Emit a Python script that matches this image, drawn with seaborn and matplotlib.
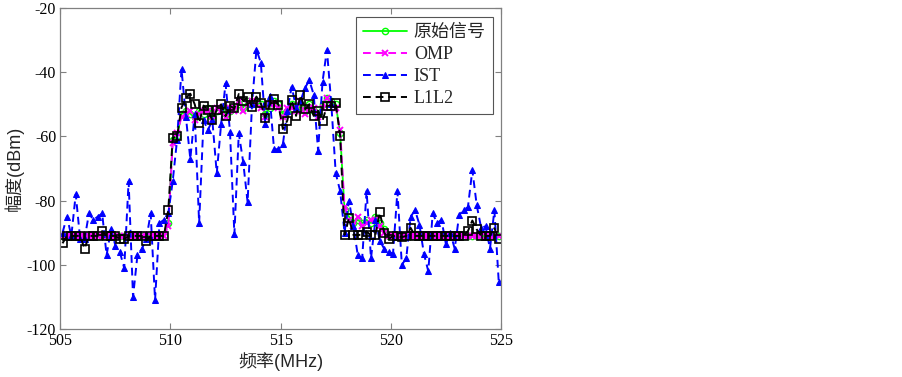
import numpy as np
import matplotlib
matplotlib.use("Agg")
import matplotlib.pyplot as plt
import seaborn as sns

# frequency grid (MHz), 0.2 MHz bins
freq = np.linspace(505.1, 524.9, 100)

# original signal
orig = [-91] * 24 + [
    -87, -61, -60, -53, -52, -53, -54, -52, -53, -51,
    -54, -52, -51, -53, -52, -51, -50, -51, -49, -50,
    -49, -50, -53, -51, -49, -50, -53, -52, -50, -51,
    -50, -52, -50, -52, -53, -50, -48, -49, -50, -59,
    -83, -85, -87, -86, -87, -86, -87, -85, -87, -89,
] + [-91] * 26

# OMP reconstruction
omp = [-91] * 24 + [
    -88, -62, -59, -54, -53, -52, -55, -53, -52, -52,
    -55, -51, -52, -54, -51, -52, -49, -52, -50, -49,
    -50, -51, -54, -50, -50, -51, -54, -51, -51, -52,
    -49, -53, -51, -51, -54, -51, -48, -50, -51, -58,
    -82, -86, -88, -85, -88, -87, -86, -86, -88, -90,
] + [-91] * 26

# IST reconstruction
ist = [
    -90, -85, -91, -78, -92, -92, -84, -86, -85, -84,
    -97, -89, -94, -96, -101, -74, -110, -97, -95, -92,
    -84, -111, -87, -86, -84, -74, -61, -39, -54, -67,
    -53, -87, -55, -58, -55, -71.5, -56, -43.5, -58.5, -90.5,
    -59, -68, -80.5, -50, -33, -37, -56, -47.5, -64, -64,
    -62.5, -52, -44.5, -51, -49, -45, -42.5, -47, -64.5, -43,
    -33, -50, -71.5, -77, -90, -80, -88, -97, -98, -77,
    -98, -86, -92.5, -95, -96, -96.5, -77, -100, -98, -85,
    -83, -87.5, -96.5, -102, -84, -87, -86, -93.5, -90, -95,
    -84.5, -83, -82, -70.5, -81.5, -88.5, -88, -95, -83, -105.5,
]

# L1L2 reconstruction
l1l2 = [
    -93.3, -91, -91, -91, -91, -95, -91, -91, -91, -89.5,
    -91, -91, -91, -92, -92, -91, -91, -91, -91, -92.5,
    -91, -91, -91, -91, -83, -60.5, -60, -51, -48, -46.7,
    -50, -55.8, -50.4, -51.7, -55, -51.7, -50, -53.7, -50.5, -51.3,
    -46.8, -49, -47.7, -50.7, -47.6, -49.7, -54.2, -50.2, -48.4, -50.2,
    -57.7, -55.1, -48.7, -53.6, -47.1, -51.6, -50, -53.6, -52, -55.1,
    -50.5, -50.4, -49.7, -59.8, -90.7, -85.5, -90.7, -90.7, -90.7, -89.7,
    -90.7, -90.7, -83.7, -90, -92, -91, -91, -91.4, -91, -88.5,
    -91, -91, -91, -91, -91, -91, -91, -91, -91, -91,
    -91, -91, -89.5, -86.2, -89, -91, -91, -91, -88.6, -92,
]

series_names = ["原始信号", "OMP", "IST", "L1L2"]

sns.set_style("ticks")
plt.rcParams["font.family"] = ["Liberation Serif", "Noto Sans CJK SC"]
plt.rcParams["axes.unicode_minus"] = False

fig = plt.figure(figsize=(9.03, 3.77), dpi=100)
ax = fig.add_axes([0.0668, 0.1273, 0.4880, 0.8515])

sns.lineplot(x=freq, y=orig, ax=ax, color="#00ff00", linestyle="-", linewidth=1.3,
             marker="o", markersize=4.5, markerfacecolor="none", markeredgecolor="#00ff00",
             markeredgewidth=1.0, label=series_names[0])
sns.lineplot(x=freq, y=omp, ax=ax, color="#ff00ff", linestyle=(0, (4, 2.5)), linewidth=1.4,
             marker="x", markersize=5, markeredgecolor="#ff00ff", markeredgewidth=1.4,
             label=series_names[1])
sns.lineplot(x=freq, y=ist, ax=ax, color="#0000ff", linestyle=(0, (4, 2.5)), linewidth=1.4,
             marker="^", markersize=4, markerfacecolor="#0000ff", markeredgecolor="#0000ff",
             label=series_names[2])
sns.lineplot(x=freq, y=l1l2, ax=ax, color="black", linestyle=(0, (4, 2.5)), linewidth=1.4,
             marker="s", markersize=5.5, markerfacecolor="none", markeredgecolor="black",
             markeredgewidth=1.2, label=series_names[3])

ax.set_xlim(505, 525)
ax.set_ylim(-120, -20)
ax.set_xticks([505, 510, 515, 520, 525])
ax.set_yticks([-120, -100, -80, -60, -40, -20])
ax.tick_params(direction="in", length=4, width=0.8, top=True, right=True,
               labelsize=11.5, colors="#808080", labelcolor="black", pad=3)
for s in ax.spines.values():
    s.set_visible(True)
    s.set_color("#808080")
    s.set_linewidth(0.9)

label_font = ["Liberation Sans", "Noto Sans CJK SC"]
ax.set_xlabel("频率(MHz)", fontsize=13, family=label_font, labelpad=2)
ax.set_ylabel("幅度(dBm)", fontsize=13, family=label_font, labelpad=2)

leg = ax.legend(loc="upper right", bbox_to_anchor=(0.982, 0.973), borderaxespad=0,
                frameon=True, fancybox=False, edgecolor="#555555", framealpha=1,
                handlelength=2.4, handletextpad=0.4, borderpad=0.4, labelspacing=0.28,
                prop={"family": ["Liberation Serif", "Noto Sans CJK SC"], "size": 13})
leg.get_frame().set_linewidth(0.8)

fig.savefig("out.png", dpi=100)
